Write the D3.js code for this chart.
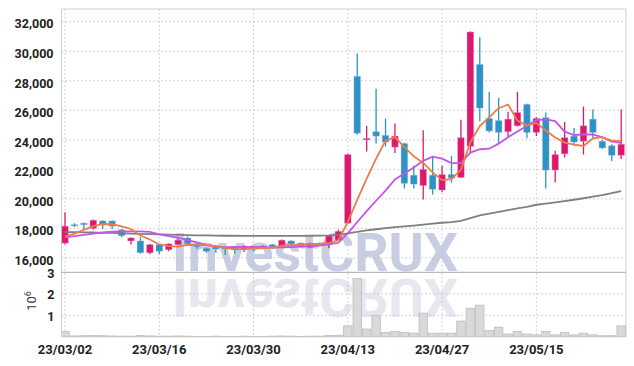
<!DOCTYPE html>
<html>
<head>
<meta charset="utf-8">
<script src="https://cdn.jsdelivr.net/npm/d3@7"></script>
<style>
body{margin:0;background:#fff}
svg{display:block}
text{font-family:Roboto,"Liberation Sans",sans-serif}
</style>
</head>
<body>
<div id="chart"></div>
<script>
// trading days
const dates = ["23/03/02","23/03/03","23/03/06","23/03/07","23/03/08","23/03/09","23/03/10","23/03/13","23/03/14","23/03/15",
  "23/03/16","23/03/17","23/03/20","23/03/21","23/03/22","23/03/23","23/03/24","23/03/27","23/03/28","23/03/29",
  "23/03/30","23/03/31","23/04/03","23/04/04","23/04/05","23/04/06","23/04/07","23/04/10","23/04/11","23/04/12",
  "23/04/13","23/04/14","23/04/17","23/04/18","23/04/19","23/04/20","23/04/21","23/04/24","23/04/25","23/04/26",
  "23/04/27","23/04/28","23/05/02","23/05/03","23/05/04","23/05/08","23/05/09","23/05/10","23/05/11","23/05/12",
  "23/05/15","23/05/16","23/05/17","23/05/18","23/05/19","23/05/22","23/05/23","23/05/24","23/05/25","23/05/26"];

const open = [17000,18250,18350,18000,18500,18500,17900,17150,17150,16350, 16900,16550,16900,17350,16950,16650,16750,16700,16700,16550,
  16750,16650,16900,16750,17150,17000,16700,17000,16950,17200, 18350,28300,24000,24550,24300,23500,23750,21600,20900,21600,
  20600,21650,21450,23550,29100,25450,25300,24550,24950,26400, 24500,25500,21950,23050,24250,23900,25400,23900,23600,22950];
const high = [19100,18350,18400,18600,18550,18550,17950,17400,17400,16950, 16950,17000,17300,17450,17000,16700,16800,16750,16750,16850,
  16800,16850,16950,17250,17200,17050,17050,17050,17550,17900, 23050,29850,24950,27450,25450,25100,23800,22250,24650,22900,
  22250,22900,25350,31350,30950,27250,26850,25900,27250,26450, 25550,25850,23250,25200,24800,26250,26050,24000,23700,26050];
const low = [16900,18100,17900,17900,17950,17950,17400,16900,16300,16250, 16250,16450,16850,16900,16600,16350,16350,16200,16300,16400,
  16450,16600,16650,16700,16900,16700,16650,16800,16650,17150, 18300,24350,23200,23750,23550,23100,20700,20700,19950,20300,
  20450,21100,21400,23150,25250,24500,23800,24150,24900,24100, 24250,20700,21100,22800,23600,23000,24100,23400,22550,22700];
const close = [18150,18200,18250,18550,18250,18150,17500,17350,16350,16900, 16450,16950,17200,16950,16750,16450,16600,16600,16550,16800,
  16600,16800,16750,17200,16950,16750,17000,16900,17500,17800, 23000,24450,24100,24250,23850,24250,21050,21000,22000,20650,
  21650,21400,24150,31300,26150,24600,24500,25400,25850,24500, 25450,21950,23000,24150,23850,24950,24500,23450,22950,23700];
const volume = [250000,40000,50000,60000,50000,40000,30000,30000,60000,40000, 30000,30000,40000,30000,20000,20000,30000,20000,20000,30000,
  20000,20000,30000,40000,30000,20000,30000,30000,60000,70000, 510000,2710000,360000,980000,200000,250000,200000,170000,1100000,170000,
  170000,170000,730000,1330000,1470000,290000,450000,130000,250000,130000, 90000,250000,90000,200000,90000,170000,90000,50000,50000,510000];

// moving averages as shown
const ma5 = [17450,17650,17900,18150,18280,18280,18140,17960,17520,17250, 16910,16800,16770,16890,16860,16860,16790,16670,16590,16600,
  16630,16670,16700,16830,16860,16890,16930,16960,17020,17190, 18440,19930,21370,22720,23930,24180,23500,22880,22430,21790,
  21270,21340,21970,23830,24930,25520,26140,26390,25300,24970, 25140,24630,24150,23810,23680,23580,24090,24180,23940,23910];
const ma10 = [17400,17480,17560,17650,17720,17770,17790,17800,17800,17765, 17595,17470,17365,17205,17055,16885,16795,16720,16740,16730,
  16745,16730,16685,16710,16730,16760,16800,16830,16925,17025, 17665,18430,19165,19870,20560,21310,21715,22125,22575,22860,
  22725,22420,22425,23130,23360,23395,23740,24180,24565,24950, 25330,25385,25270,24555,24325,24360,24360,24165,23875,23795];
const ma60 = [17750,17740,17730,17720,17700,17690,17670,17650,17630,17610, 17590,17570,17560,17540,17530,17520,17510,17500,17500,17490,
  17490,17490,17490,17490,17490,17490,17500,17510,17520,17560, 17660,17760,17860,17940,18010,18080,18130,18190,18260,18320,
  18380,18430,18510,18700,18880,19000,19120,19240,19350,19450, 19600,19680,19760,19850,19940,20040,20150,20260,20390,20520];

const priceTicks = [16000,18000,20000,22000,24000,26000,28000,30000,32000];
const volTicks = [1000000,2000000,3000000];
const dateTicks = dates.filter((d, i) => i % 10 === 0);

const width = 634, height = 366;
const pLeft = 61.5, pRight = 626, pTop = 9, pSplit = 272.3, pBottom = 336.8;
const upColor = "#e0186c", downColor = "#2b94c5";

const svg = d3.select("#chart").append("svg").attr("width", width).attr("height", height);

const x = d3.scaleBand().domain(dates).range([60.3, 625.9]);
const bw = x.bandwidth();
const cx = d => x(d) + bw / 2;
const yP = d3.scaleLinear().domain([16000, 32000]).range([257.9, 21.7]);
const yV = d3.scaleLinear().domain([0, 3000000]).range([pBottom, pSplit]);

svg.append("clipPath").attr("id", "clip").append("rect")
  .attr("x", pLeft).attr("y", pTop).attr("width", pRight - pLeft).attr("height", pBottom - pTop);

// watermark + reflection
let wm = svg.append("g").attr("font-family", "'Liberation Sans',Arial,sans-serif").attr("font-weight", "bold");
wm.append("text").attr("x", 172).attr("y", 271).attr("font-size", 54)
  .attr("textLength", 286).attr("lengthAdjust", "spacingAndGlyphs")
  .attr("fill", "#c8cde2").text("InvestCRUX");
wm.append("text").attr("x", 172).attr("y", 271).attr("font-size", 54)
  .attr("textLength", 286).attr("lengthAdjust", "spacingAndGlyphs")
  .attr("transform", "translate(0," + (2 * 275) + ") scale(1,-1)")
  .attr("fill", "#e6e7ef").text("InvestCRUX");

// grid
let grid = svg.append("g").attr("stroke", "#bfc3d6").attr("stroke-dasharray", "1.5,2.5").attr("stroke-width", 1);
grid.selectAll(".hp").data(priceTicks).enter().append("line")
  .attr("x1", pLeft).attr("x2", pRight).attr("y1", d => yP(d)).attr("y2", d => yP(d));
grid.selectAll(".hv").data(volTicks.slice(0, 2)).enter().append("line")
  .attr("x1", pLeft).attr("x2", pRight).attr("y1", d => yV(d)).attr("y2", d => yV(d));
grid.selectAll(".vv").data(dateTicks).enter().append("line")
  .attr("x1", d => cx(d)).attr("x2", d => cx(d)).attr("y1", pTop).attr("y2", pBottom);

// frame
let frame = svg.append("g").attr("fill", "none");
frame.append("line").attr("x1", pLeft).attr("x2", pRight).attr("y1", pTop).attr("y2", pTop).attr("stroke", "#d0d0d0");
frame.append("line").attr("x1", pLeft).attr("x2", pLeft).attr("y1", pTop).attr("y2", pBottom).attr("stroke", "#d0d0d0");
frame.append("line").attr("x1", pRight).attr("x2", pRight).attr("y1", pTop).attr("y2", pBottom).attr("stroke", "#d0d0d0");
frame.append("line").attr("x1", pLeft).attr("x2", pRight).attr("y1", pSplit).attr("y2", pSplit).attr("stroke", "#a8a8a8");
frame.append("line").attr("x1", pLeft).attr("x2", pRight).attr("y1", pBottom).attr("y2", pBottom).attr("stroke", "#c8c8c8");

let plot = svg.append("g").attr("clip-path", "url(#clip)");

// volume
plot.selectAll(".vol").data(dates).enter().append("rect")
  .attr("x", d => x(d) + 0.5).attr("width", bw - 1)
  .attr("y", (d, i) => yV(volume[i])).attr("height", (d, i) => pBottom - yV(volume[i]))
  .attr("fill", "#d9d9d9").attr("stroke", "#bdbdbd").attr("stroke-width", 0.8);

// candles
let candles = plot.selectAll(".candle").data(dates).enter().append("g");
candles.append("line")
  .attr("x1", d => cx(d)).attr("x2", d => cx(d))
  .attr("y1", (d, i) => yP(high[i])).attr("y2", (d, i) => yP(low[i]))
  .attr("stroke", (d, i) => close[i] >= open[i] ? upColor : downColor).attr("stroke-width", 1.3);
candles.append("rect")
  .attr("x", d => cx(d) - 3.3).attr("width", 6.6)
  .attr("y", (d, i) => yP(Math.max(open[i], close[i])))
  .attr("height", (d, i) => Math.max(1.2, Math.abs(yP(open[i]) - yP(close[i]))))
  .attr("fill", (d, i) => close[i] >= open[i] ? upColor : downColor)
  .attr("stroke", "#b9a8e6").attr("stroke-opacity", 0.35).attr("stroke-width", 1);

// moving averages
const line = d3.line().x((d, i) => cx(dates[i])).y(d => yP(d));
plot.append("path").datum(ma60).attr("d", line).attr("fill", "none").attr("stroke", "#7f7f7f").attr("stroke-width", 1.8);
plot.append("path").datum(ma10).attr("d", line).attr("fill", "none").attr("stroke", "#c653ea").attr("stroke-width", 1.8);
plot.append("path").datum(ma5).attr("d", line).attr("fill", "none").attr("stroke", "#ee7c48").attr("stroke-width", 1.8);

// axes
let ax = svg.append("g").attr("transform", "translate(" + pLeft + ",0)")
  .call(d3.axisLeft(yP).tickValues(priceTicks).tickFormat(d3.format(",")).tickSize(0).tickPadding(8));
ax.select(".domain").remove();
ax.selectAll("text").attr("dy", "0.5em").attr("font-size", 12.5).attr("font-weight", "bold")
  .attr("fill", "#222").attr("font-family", "Roboto,sans-serif");

let av = svg.append("g").attr("transform", "translate(" + pLeft + ",0)")
  .call(d3.axisLeft(yV).tickValues(volTicks).tickFormat(d => d / 1000000).tickSize(0).tickPadding(7));
av.select(".domain").remove();
av.selectAll("text").attr("dy", "0.4em").attr("font-size", 12.5).attr("font-weight", "bold")
  .attr("fill", "#222").attr("font-family", "Roboto,sans-serif");

let axb = svg.append("g").attr("transform", "translate(0," + pBottom + ")")
  .call(d3.axisBottom(x).tickValues(dateTicks).tickSize(0).tickPadding(8));
axb.select(".domain").remove();
axb.selectAll("text").attr("font-size", 13).attr("font-weight", "bold")
  .attr("fill", "#222").attr("font-family", "Roboto,sans-serif");

let unit = svg.append("text").attr("transform", "translate(36,301) rotate(-90)")
  .attr("text-anchor", "middle").attr("font-size", 13).attr("fill", "#333");
unit.append("tspan").text("10");
unit.append("tspan").attr("dy", -5).attr("font-size", 9).text("6");
</script>
</body>
</html>
